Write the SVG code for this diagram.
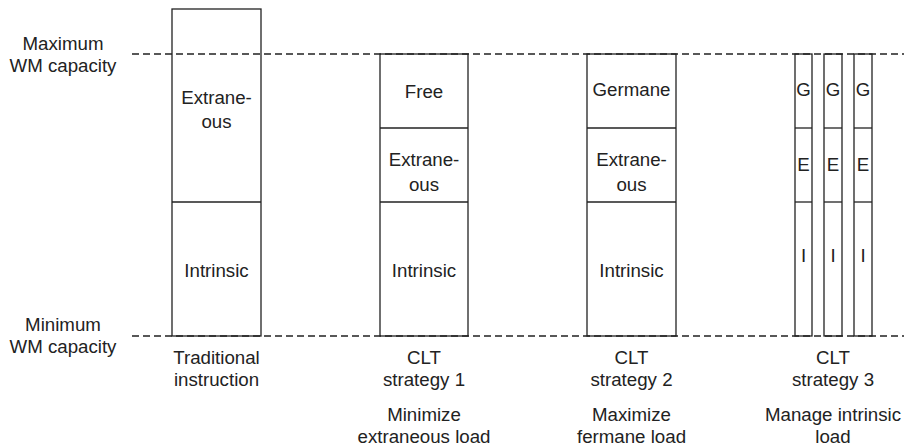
<svg xmlns="http://www.w3.org/2000/svg" width="904" height="447" viewBox="0 0 904 447">
<style>
text{font-family:"Liberation Sans",Arial,sans-serif;font-size:18.7px;fill:#222;text-anchor:middle}
.box{fill:#fff;stroke:#222;stroke-width:1.3}
.div{stroke:#222;stroke-width:1.3}
.dash{stroke:#222;stroke-width:1.4;stroke-dasharray:7 4;fill:none}
</style>
<rect width="904" height="447" fill="#fff"/>
<g id="axis-labels">
<text x="63" y="50">Maximum</text>
<text x="63" y="72">WM capacity</text>
<text x="63" y="331">Minimum</text>
<text x="63" y="353">WM capacity</text>
</g>
<g id="traditional">
<rect class="box" x="172" y="9" width="89" height="327"/>
<line class="div" x1="172" y1="202" x2="261" y2="202"/>
<text x="216.5" y="104">Extrane-</text>
<text x="216.5" y="128">ous</text>
<text x="216.5" y="277">Intrinsic</text>
<text x="216.5" y="364">Traditional</text>
<text x="216.5" y="386">instruction</text>
</g>
<g id="strategy1">
<rect class="box" x="380" y="54" width="88" height="282"/>
<line class="div" x1="380" y1="128" x2="468" y2="128"/>
<line class="div" x1="380" y1="202" x2="468" y2="202"/>
<text x="424" y="98">Free</text>
<text x="424" y="166">Extrane-</text>
<text x="424" y="191">ous</text>
<text x="424" y="277">Intrinsic</text>
<text x="424" y="364">CLT</text>
<text x="424" y="386">strategy 1</text>
<text x="424" y="421">Minimize</text>
<text x="424" y="443">extraneous load</text>
</g>
<g id="strategy2">
<rect class="box" x="587" y="54" width="89" height="282"/>
<line class="div" x1="587" y1="128" x2="676" y2="128"/>
<line class="div" x1="587" y1="202" x2="676" y2="202"/>
<text x="631.5" y="96">Germane</text>
<text x="631.5" y="166">Extrane-</text>
<text x="631.5" y="191">ous</text>
<text x="631.5" y="277">Intrinsic</text>
<text x="631.5" y="364">CLT</text>
<text x="631.5" y="386">strategy 2</text>
<text x="631.5" y="421">Maximize</text>
<text x="631.5" y="443">fermane load</text>
</g>
<g id="strategy3">
<rect class="box" x="795" y="54" width="17" height="282"/>
<rect class="box" x="824" y="54" width="18" height="282"/>
<rect class="box" x="854" y="54" width="18" height="282"/>
<line class="div" x1="795" y1="128" x2="812" y2="128"/>
<line class="div" x1="795" y1="202" x2="812" y2="202"/>
<line class="div" x1="824" y1="128" x2="842" y2="128"/>
<line class="div" x1="824" y1="202" x2="842" y2="202"/>
<line class="div" x1="854" y1="128" x2="872" y2="128"/>
<line class="div" x1="854" y1="202" x2="872" y2="202"/>
<text x="803.5" y="96">G</text>
<text x="833" y="96">G</text>
<text x="863" y="96">G</text>
<text x="803.5" y="171">E</text>
<text x="833" y="171">E</text>
<text x="863" y="171">E</text>
<text x="803.5" y="262">I</text>
<text x="833" y="262">I</text>
<text x="863" y="262">I</text>
<text x="833" y="364">CLT</text>
<text x="833" y="386">strategy 3</text>
<text x="833" y="421">Manage intrinsic</text>
<text x="833" y="443">load</text>
</g>
<g id="connectors">
<line class="dash" x1="132" y1="54" x2="904" y2="54"/>
<line class="dash" x1="132" y1="336" x2="904" y2="336"/>
</g>
</svg>
